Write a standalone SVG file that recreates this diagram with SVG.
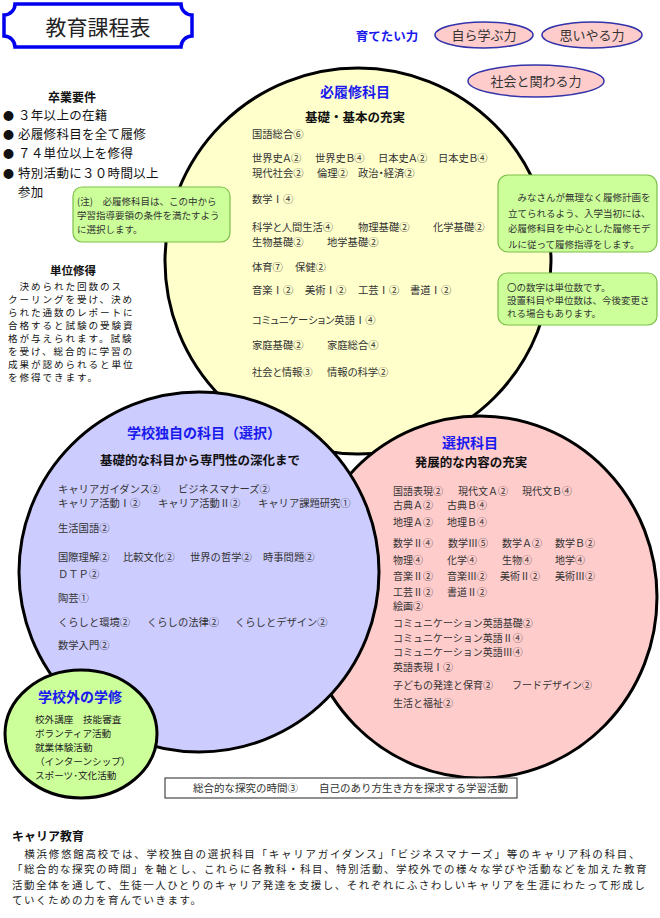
<svg xmlns="http://www.w3.org/2000/svg" width="660" height="918" viewBox="0 0 660 918">
<style>
text { font-family: 'Noto Sans CJK JP', 'Noto Sans CJK SC', sans-serif; }
.s { font-size: 10.3px; fill: #333; }
.pp { font-size: 10px; fill: #333; }
.palt { font-feature-settings: "palt"; }
.hd { font-weight: bold; fill: #1a1aee; font-size: 14px; text-anchor: middle; }
.sub { font-weight: bold; fill: #111; font-size: 12.5px; text-anchor: middle; }
.note { font-size: 9.5px; fill: #333; }
.big { stroke: #000; stroke-width: 3; }
.gbox { fill: #ccff99; stroke: #7cbf4a; stroke-width: 1.2; }
.pill { fill: #ffcccc; stroke: #3333aa; stroke-width: 1.5; }
.pt { font-size: 13px; fill: #333; text-anchor: middle; }
.req { font-size: 12.5px; fill: #111; letter-spacing: 0.3px; }
.para { font-size: 9.6px; fill: #111; letter-spacing: 1.9px; }
.foot { font-size: 10.5px; fill: #222; letter-spacing: 1.5px; }
.foot1 { letter-spacing: 1.73px; }
</style>

<g id="title">
<path d="M15,4 H181 A11 11 0 0 0 192 15 V36 A11 11 0 0 0 181 47 H15 A11 11 0 0 0 4 36 V15 A11 11 0 0 0 15 4 Z" fill="#fff" stroke="#0000ee" stroke-width="3.5"/>
<text x="98" y="35" font-size="21" text-anchor="middle" fill="#222">教育課程表</text>
</g>

<g id="graduation">
<text x="72" y="102" font-size="12" font-weight="bold" text-anchor="middle" fill="#111">卒業要件</text>
<text x="3" y="120" font-size="11" fill="#111">●</text>
<text x="18" y="120" class="req">３年以上の在籍</text>
<text x="3" y="139" font-size="11" fill="#111">●</text>
<text x="18" y="139" class="req">必履修科目を全て履修</text>
<text x="3" y="158" font-size="11" fill="#111">●</text>
<text x="18" y="158" class="req">７４単位以上を修得</text>
<text x="3" y="178" font-size="11" fill="#111">●</text>
<text x="18" y="178" class="req">特別活動に３０時間以上</text>
<text x="18" y="197" class="req">参加</text>
</g>

<g id="credits">
<text x="73" y="275" font-size="11.5" font-weight="bold" text-anchor="middle" fill="#111">単位修得</text>
<text x="8" y="290" class="para">　決められた回数のス</text>
<text x="8" y="303" class="para">クーリングを受け、決め</text>
<text x="8" y="316" class="para">られた通数のレポートに</text>
<text x="8" y="329" class="para">合格すると試験の受験資</text>
<text x="8" y="342" class="para">格が与えられます。試験</text>
<text x="8" y="355" class="para">を受け、総合的に学習の</text>
<text x="8" y="368" class="para">成果が認められると単位</text>
<text x="8" y="381" class="para">を修得できます。</text>
</g>

<g id="goals">
<text x="387" y="41" font-size="12.5" font-weight="bold" text-anchor="middle" fill="#1a1aee">育てたい力</text>
<g id="goal1"><ellipse cx="484" cy="35" rx="49" ry="13" class="pill"/><text x="484" y="40" class="pt">自ら学ぶ力</text></g>
<g id="goal2"><ellipse cx="592" cy="35" rx="50" ry="13" class="pill"/><text x="592" y="40" class="pt">思いやる力</text></g>
<g id="goal3"><ellipse cx="536" cy="81" rx="68" ry="16" class="pill"/><text x="536" y="86" class="pt">社会と関わる力</text></g>
</g>

<g id="required">
<circle cx="358" cy="261" r="193" fill="#ffffcc" class="big"/>
<text x="355" y="97" class="hd">必履修科目</text>
<text x="355" y="122" class="sub">基礎・基本の充実</text>
<g class="s palt">
<text x="252" y="138">国語総合⑥</text>
<text x="252" y="162">世界史Ａ②</text><text x="315" y="162">世界史Ｂ④</text><text x="378" y="162">日本史Ａ②</text><text x="438" y="162">日本史Ｂ④</text>
<text x="252" y="177">現代社会②</text><text x="317" y="177">倫理②</text><text x="358" y="177">政治・経済②</text>
<text x="252" y="203">数学Ⅰ④</text>
<text x="252" y="231">科学と人間生活④</text><text x="358" y="231">物理基礎②</text><text x="433" y="231">化学基礎②</text>
<text x="252" y="246">生物基礎②</text><text x="327" y="246">地学基礎②</text>
<text x="252" y="271">体育⑦</text><text x="295" y="271">保健②</text>
<text x="252" y="294">音楽Ⅰ②</text><text x="305" y="294">美術Ⅰ②</text><text x="358" y="294">工芸Ⅰ②</text><text x="410" y="294">書道Ⅰ②</text>
<text x="252" y="324">コミュニケーション英語Ⅰ④</text>
<text x="252" y="349">家庭基礎②</text><text x="327" y="349">家庭総合④</text>
<text x="252" y="376">社会と情報③</text><text x="327" y="376">情報の科学②</text>
</g>
</g>

<g id="elective">
<ellipse cx="480" cy="597" rx="177" ry="181" fill="#ffcccc" class="big"/>
<text x="470" y="448" class="hd">選択科目</text>
<text x="471" y="467" class="sub">発展的な内容の充実</text>
<g class="pp">
<text x="393" y="495">国語表現②</text><text x="458" y="495">現代文Ａ②</text><text x="522" y="495">現代文Ｂ④</text>
<text x="393" y="509">古典Ａ②</text><text x="447" y="509">古典Ｂ④</text>
<text x="393" y="526">地理Ａ②</text><text x="447" y="526">地理Ｂ④</text>
<text x="393" y="547">数学Ⅱ④</text><text x="448" y="547">数学Ⅲ⑤</text><text x="502" y="547">数学Ａ②</text><text x="555" y="547">数学Ｂ②</text>
<text x="393" y="564">物理④</text><text x="447" y="564">化学④</text><text x="502" y="564">生物④</text><text x="555" y="564">地学④</text>
<text x="393" y="580">音楽Ⅱ②</text><text x="447" y="580">音楽Ⅲ②</text><text x="500" y="580">美術Ⅱ②</text><text x="555" y="580">美術Ⅲ②</text>
<text x="393" y="596">工芸Ⅱ②</text><text x="447" y="596">書道Ⅱ②</text>
<text x="393" y="610">絵画②</text>
<text x="393" y="627">コミュニケーション英語基礎②</text>
<text x="393" y="642">コミュニケーション英語Ⅱ④</text>
<text x="393" y="656">コミュニケーション英語Ⅲ④</text>
<text x="393" y="671">英語表現Ⅰ②</text>
<text x="393" y="689">子どもの発達と保育②</text><text x="512" y="689">フードデザイン②</text>
<text x="393" y="707">生活と福祉②</text>
</g>
</g>

<g id="school">
<circle cx="199" cy="572" r="180" fill="#ccccff" class="big"/>
<text x="204" y="438" class="hd" font-size="13.5">学校独自の科目（選択）</text>
<text x="200" y="465" class="sub" font-size="12">基礎的な科目から専門性の深化まで</text>
<g class="s">
<text x="58" y="493">キャリアガイダンス②</text><text x="178" y="493">ビジネスマナーズ②</text>
<text x="58" y="507">キャリア活動Ⅰ②</text><text x="158" y="507">キャリア活動Ⅱ②</text><text x="258" y="507">キャリア課題研究①</text>
<text x="58" y="532">生活国語②</text>
<text x="58" y="561">国際理解②</text><text x="123" y="561">比較文化②</text><text x="190" y="561">世界の哲学②</text><text x="263" y="561">時事問題②</text>
<text x="58" y="578">ＤＴＰ②</text>
<text x="58" y="602">陶芸①</text>
<text x="58" y="626">くらしと環境②</text><text x="147" y="626">くらしの法律②</text><text x="235" y="626">くらしとデザイン②</text>
<text x="58" y="649">数学入門②</text>
</g>
</g>

<g id="outside">
<ellipse cx="81" cy="734" rx="76" ry="64" fill="#ccff99" class="big"/>
<text x="80" y="702" class="hd" font-size="13">学校外の学修</text>
<g font-size="9.6" fill="#222">
<text x="35" y="723">校外講座　技能審査</text>
<text x="35" y="737">ボランティア活動</text>
<text x="35" y="751">就業体験活動</text>
<text x="35" y="765">（インターンシップ）</text>
<text x="35" y="779">スポーツ･文化活動</text>
</g>
</g>

<g id="note-left">
<rect x="73" y="187" width="157" height="55" rx="9" class="gbox"/>
<text x="77" y="205" class="note">(注)　必履修科目は、この中から</text>
<text x="77" y="219" class="note">学習指導要領の条件を満たすよう</text>
<text x="77" y="233" class="note">に選択します。</text>
</g>

<g id="note-right1">
<rect x="498" y="175" width="159" height="77" rx="10" class="gbox"/>
<text x="508" y="201" class="note">　みなさんが無理なく履修計画を</text>
<text x="508" y="217" class="note">立てられるよう、入学当初には、</text>
<text x="508" y="232" class="note">必履修科目を中心とした履修モデ</text>
<text x="508" y="248" class="note">ルに従って履修指導をします。</text>
</g>

<g id="note-right2">
<rect x="498" y="273" width="159" height="52" rx="9" class="gbox"/>
<text x="507" y="291" class="note">〇の数字は単位数です。</text>
<text x="507" y="304" class="note">設置科目や単位数は、今後変更さ</text>
<text x="507" y="317" class="note">れる場合もあります。</text>
</g>

<g id="integrated">
<rect x="165" y="778" width="352" height="20" fill="#fff" stroke="#222" stroke-width="1"/>
<text x="193" y="792" font-size="10.5" fill="#333">総合的な探究の時間③　　自己のあり方生き方を探求する学習活動</text>
</g>

<g id="career">
<text x="12" y="841" font-size="12" font-weight="bold" fill="#111">キャリア教育</text>
<text x="12" y="858" class="foot foot1">　横浜修悠館高校では、学校独自の選択科目「キャリアガイダンス」「ビジネスマナーズ」等のキャリア科の科目、</text>
<text x="12" y="873.4" class="foot">「総合的な探究の時間」を軸とし、これらに各教科・科目、特別活動、学校外での様々な学びや活動などを加えた教育</text>
<text x="12" y="888.8" class="foot">活動全体を通して、生徒一人ひとりのキャリア発達を支援し、それぞれにふさわしいキャリアを生涯にわたって形成し</text>
<text x="12" y="904.2" class="foot">ていくための力を育んでいきます。</text>
</g>
</svg>
